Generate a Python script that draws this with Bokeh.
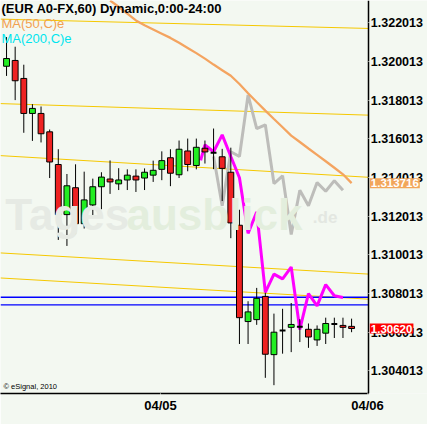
from bokeh.plotting import figure
from bokeh.models import Range1d, FixedTicker, PrintfTickFormatter, Label, ColumnDataSource
from bokeh.embed import file_html
from bokeh.resources import INLINE

# ---------------- data ----------------
bars = list(range(41))
opens = [1.31976, 1.32006, 1.31913, 1.31732, 1.31732, 1.31637, 1.31468, 1.31209, 1.31348, 1.31162,
         1.31259, 1.31353, 1.31393, 1.31368, 1.31388, 1.31408, 1.31398, 1.31413, 1.31443, 1.31503,
         1.31415, 1.31538, 1.31463, 1.31552, 1.31529, 1.31508, 1.31428, 1.31154, 1.30656, 1.30666,
         1.30786, 1.30485, 1.30610, 1.30626, 1.30629, 1.30616, 1.30561, 1.30596, 1.30643, 1.30636,
         1.30631]
highs = [1.32127, 1.32077, 1.31984, 1.31780, 1.31768, 1.31649, 1.31547, 1.31419, 1.31469, 1.31431,
         1.31395, 1.31428, 1.31489, 1.31449, 1.31443, 1.31443, 1.31448, 1.31488, 1.31536, 1.31547,
         1.31592, 1.31602, 1.31602, 1.31592, 1.31654, 1.31549, 1.31555, 1.31234, 1.30761, 1.30830,
         1.30805, 1.30697, 1.30722, 1.30752, 1.30668, 1.30646, 1.30636, 1.30676, 1.30676, 1.30676,
         1.30671]
lows = [1.31926, 1.31801, 1.31632, 1.31590, 1.31582, 1.31398, 1.31078, 1.31047, 1.31108, 1.31137,
        1.31207, 1.31237, 1.31316, 1.31336, 1.31336, 1.31326, 1.31336, 1.31378, 1.31387, 1.31356,
        1.31398, 1.31433, 1.31443, 1.31473, 1.31444, 1.31279, 1.31087, 1.30540, 1.30540, 1.30639,
        1.30365, 1.30327, 1.30490, 1.30498, 1.30550, 1.30520, 1.30530, 1.30540, 1.30571, 1.30571,
        1.30601]
closes = [1.32016, 1.31901, 1.31732, 1.31758, 1.31627, 1.31481, 1.31209, 1.31358, 1.31162, 1.31285,
          1.31353, 1.31403, 1.31378, 1.31388, 1.31413, 1.31388, 1.31428, 1.31438, 1.31488, 1.31423,
          1.31547, 1.31468, 1.31557, 1.31533, 1.31529, 1.31448, 1.31166, 1.30676, 1.30706, 1.30776,
          1.30487, 1.30601, 1.30610, 1.30641, 1.30629, 1.30576, 1.30616, 1.30646, 1.30643, 1.30626,
          1.30620]

ma50_x = list(range(12, 41))
ma50 = [1.323158, 1.322835, 1.322481, 1.322128, 1.321884, 1.321664, 1.321445, 1.321226, 1.320977,
        1.320708, 1.320439, 1.320155, 1.319847, 1.319558, 1.319269, 1.318841, 1.318363, 1.317914,
        1.317466, 1.317033, 1.316605, 1.316176, 1.315843, 1.315509, 1.315180, 1.314847, 1.314513,
        1.314174, 1.313716]

magenta_x = [22.5] + list(range(23, 40))
magenta = [1.314892, 1.315688, 1.315340, 1.316211, 1.315091, 1.313995, 1.311122, 1.312227, 1.308069,
           1.309015, 1.308766, 1.309379, 1.306152, 1.308004, 1.307372, 1.308467, 1.307895, 1.307805]

gray_x = list(range(24, 40))
gray = [1.315091, 1.312551, 1.315340, 1.315091, 1.318278, 1.316535, 1.316734, 1.313696, 1.314095,
        1.311057, 1.313348, 1.312551, 1.313746, 1.313298, 1.313846, 1.313348]

channel_start = [1.322197, 1.317829, 1.315139, 1.310108, 1.308813]
channel_end = [1.321714, 1.317231, 1.314018, 1.309013, 1.307717]
blue_levels = [1.307817, 1.307418]

price_ticks = [1.304013, 1.306013, 1.308013, 1.310013, 1.312013, 1.314013,
               1.316013, 1.318013, 1.320013, 1.322013]
date_ticks = [16, 40]
date_labels = ["04/05", "04/06"]

title_text = "(EUR A0-FX,60) Dynamic,0:00-24:00"
legend_texts = ["MA(50,C)e", "MA(200,C)e"]

# ---------------- figure ----------------
BG = "#F3F8F1"
FONT = "Liberation Sans"
x_lo, x_axis = -0.7, 42.0      # chart area: left edge and price-axis position (bar units)
x_end = 48.8                    # room right of the price axis for its labels
y_lo, y_hi = 1.30284, 1.32316
label_shift = 1.85              # date labels start at their tick

p = figure(width=427, height=424, x_range=Range1d(x_lo, x_end), y_range=Range1d(y_lo, y_hi),
           y_axis_location="right", output_backend="svg", toolbar_location=None,
           min_border_left=0, min_border_top=0, min_border_right=0, min_border_bottom=31,
           background_fill_color=BG, border_fill_color=BG, outline_line_color=None)
p.grid.visible = False

for ax in (p.yaxis[0], p.xaxis[0]):
    ax.major_tick_in = 0
    ax.major_tick_out = 1
    ax.major_tick_line_color = BG
    ax.minor_tick_line_color = None
    ax.major_label_text_font = FONT
    ax.major_label_text_font_style = "bold"
    ax.major_label_text_color = "black"
    ax.axis_line_color = "black"
    ax.axis_line_width = 1.5

yax = p.yaxis[0]
yax.fixed_location = x_axis
yax.ticker = FixedTicker(ticks=price_ticks)
yax.formatter = PrintfTickFormatter(format="%.6f")
yax.major_label_standoff = 1
yax.major_label_text_font_size = "12.5px"

xax = p.xaxis[0]
xax.bounds = (x_lo, x_axis)
xax.ticker = FixedTicker(ticks=[t + label_shift for t in date_ticks])
xax.major_label_overrides = {t + label_shift: l for t, l in zip(date_ticks, date_labels)}
xax.major_label_standoff = 3
xax.major_label_text_font_size = "13px"

# watermark
wm_y = 1.312103
for txt, xx, col in [("Tages", -0.14, "#E6EAE4"), ("ausblick", 13.9, "#E3EEDD")]:
    p.add_layout(Label(x=xx, y=wm_y, text=txt, text_font=FONT, text_font_style="bold",
                       text_font_size="44px", text_color=col, text_baseline="alphabetic"))
p.add_layout(Label(x=35.5, y=1.311953, text=".de", text_font=FONT, text_font_style="bold",
                   text_font_size="17px", text_color="#E3E7E1", text_baseline="alphabetic"))

# channel lines
p.multi_line(xs=[[x_lo, x_axis]] * len(channel_start),
             ys=[[a, b] for a, b in zip(channel_start, channel_end)],
             line_color="#F5C800", line_width=1)
p.segment(x0=[x_lo] * len(blue_levels), y0=blue_levels, x1=[x_axis] * len(blue_levels), y1=blue_levels,
          line_color="#0000FF", line_width=1.3)

# projection lines
p.line(gray_x, gray, line_color="#BDBDBA", line_width=3)
p.line(magenta_x, magenta, line_color="#FF00FF", line_width=3)
p.line(ma50_x, ma50, line_color="#F4A460", line_width=2.3)

# candles
colors = ["#22EE22" if c > o else ("#EE2222" if c < o else "black") for o, c in zip(opens, closes)]
lws = [2 if c == o else 1 for o, c in zip(opens, closes)]
src = ColumnDataSource(dict(x=bars, top=[max(o, c) for o, c in zip(opens, closes)],
                            bottom=[min(o, c) for o, c in zip(opens, closes)],
                            high=highs, low=lows, color=colors, lw=lws))
p.segment(x0="x", y0="low", x1="x", y1="high", source=src, line_color="black", line_width=1)
p.vbar(x="x", width=0.68, top="top", bottom="bottom", fill_color="color",
       line_color="black", line_width="lw", source=src)

# texts
p.add_layout(Label(x=x_lo, y=y_hi, x_offset=1, y_offset=0, text=title_text, text_font=FONT,
                   text_font_style="bold", text_font_size="13px", text_color="black",
                   text_baseline="top"))
p.add_layout(Label(x=x_lo, y=y_hi, x_offset=1, y_offset=-15, text=legend_texts[0], text_font=FONT,
                   text_font_size="13px", text_color="#F2A050", text_baseline="top"))
p.add_layout(Label(x=x_lo, y=y_hi, x_offset=1, y_offset=-30, text=legend_texts[1], text_font=FONT,
                   text_font_size="13px", text_color="#00E5EE", text_baseline="top"))
p.add_layout(Label(x=x_lo, y=y_lo, x_offset=3, y_offset=3, text="\u00a9 eSignal, 2010", text_font=FONT,
                   text_font_size="7.5px", text_color="black", text_baseline="bottom"))

# price boxes on the axis
p.add_layout(Label(x=x_axis, y=ma50[-1], x_offset=1, text=f"{ma50[-1]:.6f}", text_font=FONT,
                   text_font_style="bold", text_font_size="11.5px", text_color="white",
                   text_baseline="middle", background_fill_color="#F2A65A", padding=1))
p.add_layout(Label(x=x_axis, y=closes[-1], x_offset=1, text=f"{closes[-1]:.5f}", text_font=FONT,
                   text_font_style="bold", text_font_size="11.5px", text_color="white",
                   text_baseline="middle", background_fill_color="#FF0000", padding=1))

open("out.html", "w").write(file_html(p, INLINE))
